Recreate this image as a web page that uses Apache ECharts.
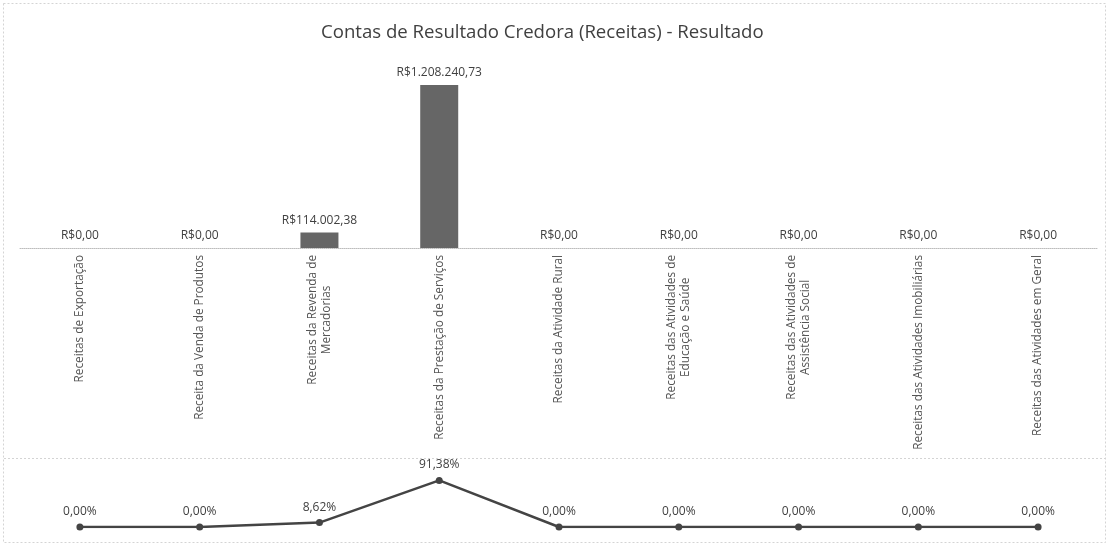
<!DOCTYPE html>
<html>
<head>
<meta charset="utf-8">
<title>Contas de Resultado Credora (Receitas) - Resultado</title>
<script src="https://cdn.jsdelivr.net/npm/echarts@6/dist/echarts.min.js"></script>
<style>
  html, body { margin: 0; padding: 0; background: #fff; }
  #chart { width: 1109px; height: 547px; }
</style>
</head>
<body>
<div id="chart"></div>
<script>
// categorias (eixo x)
const categories = [
  'Receitas de Exportação',
  'Receita da Venda de Produtos',
  'Receitas da Revenda de\nMercadorias',
  'Receitas da Prestação de Serviços',
  'Receitas da Atividade Rural',
  'Receitas das Atividades de\nEducação e Saúde',
  'Receitas das Atividades de\nAssistência Social',
  'Receitas das Atividades Imobiliárias',
  'Receitas das Atividades em Geral'
]
// valores em R$
const resultado = [0, 0, 114002.38, 1208240.73, 0, 0, 0, 0, 0]
// participação em %
const percentual = [0, 0, 8.62, 91.38, 0, 0, 0, 0, 0]

const font = 'Open Sans'
const textColor = '#404040'

// formata número no padrão brasileiro
function brl (v) {
  const parts = v.toFixed(2).split('.')
  const inteiro = parts[0].replace(/\B(?=(\d{3})+(?!\d))/g, '.')
  return 'R$' + inteiro + ',' + parts[1]
}

const chart = echarts.init(document.getElementById('chart'))
chart.setOption({
  animation: false,
  title: {
    text: 'Contas de Resultado Credora (Receitas) - Resultado',
    left: 316,
    top: 18,
    textStyle: { fontFamily: font, fontSize: 18.6, fontWeight: 'normal', color: textColor }
  },
  grid: [
    { left: 20, right: 11, top: 85, height: 163 },
    { left: 20, right: 11, top: 476, height: 51 }
  ],
  xAxis: [
    {
      type: 'category',
      gridIndex: 0,
      data: categories,
      axisLine: { lineStyle: { color: '#bdbdbd', type: 'dotted', width: 1 } },
      axisTick: { show: false },
      axisLabel: {
        rotate: 90,
        interval: 0,
        margin: 7,
        align: 'right',
        // linhas centralizadas entre si
        formatter: v => v.split('\n').map(s => '{c|' + s + '}').join('\n'),
        rich: {
          c: {
            align: 'center',
            fontFamily: font,
            fontSize: 11.8,
            lineHeight: 14,
            color: '#555'
          }
        }
      }
    },
    {
      type: 'category',
      gridIndex: 1,
      data: categories,
      show: false
    }
  ],
  yAxis: [
    { type: 'value', gridIndex: 0, min: 0, max: 1208240.73, show: false },
    { type: 'value', gridIndex: 1, min: 0, max: 100, show: false }
  ],
  series: [
    {
      name: 'Resultado',
      type: 'bar',
      xAxisIndex: 0,
      yAxisIndex: 0,
      data: resultado,
      barWidth: 38,
      itemStyle: { color: '#666' },
      label: {
        show: true,
        position: 'top',
        distance: 6,
        formatter: p => brl(p.value),
        fontFamily: font,
        fontSize: 12,
        color: textColor
      }
    },
    {
      name: 'Percentual',
      type: 'line',
      xAxisIndex: 1,
      yAxisIndex: 1,
      data: percentual,
      symbol: 'circle',
      symbolSize: 7,
      lineStyle: { color: '#444', width: 2.5 },
      itemStyle: { color: '#444' },
      label: {
        show: true,
        position: 'top',
        distance: 6,
        formatter: p => p.value.toFixed(2).replace('.', ',') + '%',
        fontFamily: font,
        fontSize: 12,
        color: textColor
      }
    }
  ],
  graphic: [
    {
      type: 'rect',
      shape: { x: 3.5, y: 3.5, width: 1102, height: 539 },
      style: { fill: 'none', stroke: '#d4d4d4', lineWidth: 1, lineDash: [2, 2] },
      silent: true
    },
    {
      type: 'line',
      shape: { x1: 4, y1: 458.5, x2: 1105, y2: 458.5 },
      style: { stroke: '#d4d4d4', lineWidth: 1, lineDash: [2, 2] },
      silent: true
    }
  ]
})
</script>
</body>
</html>
